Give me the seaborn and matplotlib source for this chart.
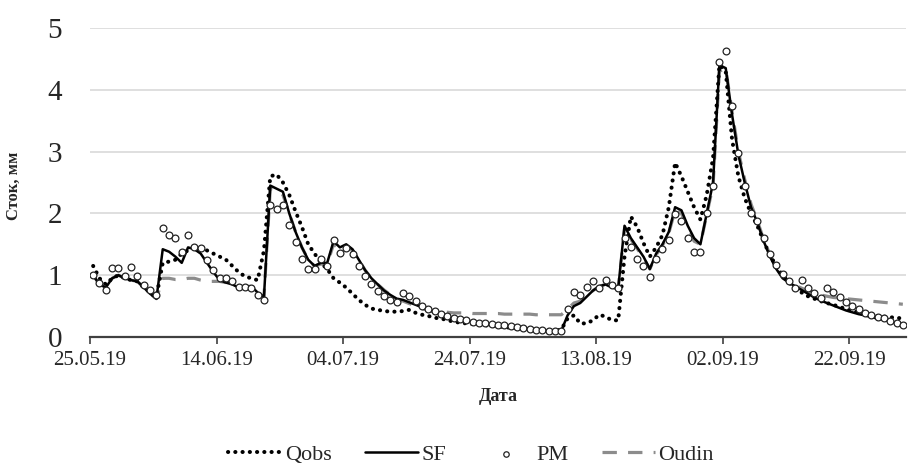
import numpy as np
import pandas as pd
import matplotlib
matplotlib.use("Agg")
import matplotlib.pyplot as plt
import matplotlib.dates as mdates
import seaborn as sns

# ---------------- data (daily, 25.05.2019 - 30.09.2019) ----------------
start_date = "2019-05-25"

qobs = [
    1.15, 0.95, 0.85, 0.95, 1.00, 0.95, 0.92, 0.90, 0.80, 0.72,
    0.65, 1.20, 1.22, 1.25, 1.35, 1.40, 1.45, 1.43, 1.40, 1.35,
    1.30, 1.25, 1.15, 1.05, 0.98, 0.95, 0.92, 1.40, 2.60, 2.63,
    2.50, 2.30, 2.03, 1.78, 1.50, 1.35, 1.20, 1.10, 0.95, 0.88,
    0.80, 0.70, 0.60, 0.52, 0.46, 0.44, 0.42, 0.41, 0.41, 0.42,
    0.44, 0.39, 0.36, 0.34, 0.31, 0.30, 0.27, 0.25, 0.23, 0.22,
    0.21, 0.20, 0.19, 0.18, 0.17, 0.16, 0.15, 0.14, 0.13, 0.12,
    0.11, 0.11, 0.10, 0.10, 0.12, 0.30, 0.35, 0.22, 0.22, 0.27,
    0.36, 0.33, 0.27, 0.27, 1.30, 1.95, 1.78, 1.52, 1.30, 1.45,
    1.65, 2.10, 2.82, 2.60, 2.35, 2.10, 1.90, 2.30, 2.90, 4.40,
    4.30, 3.20, 2.60, 2.25, 2.00, 1.80, 1.55, 1.32, 1.15, 1.00,
    0.88, 0.80, 0.72, 0.66, 0.62, 0.58, 0.55, 0.52, 0.49, 0.45,
    0.42, 0.40, 0.38, 0.36, 0.34, 0.33, 0.32, 0.31, 0.30,
]

sf = [
    1.00, 0.85, 0.80, 0.95, 1.00, 0.95, 0.92, 0.90, 0.80, 0.70,
    0.62, 1.42, 1.38, 1.30, 1.20, 1.45, 1.42, 1.35, 1.20, 1.05,
    0.92, 0.88, 0.85, 0.80, 0.82, 0.82, 0.72, 0.65, 2.45, 2.40,
    2.35, 2.00, 1.70, 1.45, 1.25, 1.15, 1.20, 1.20, 1.55, 1.45,
    1.50, 1.42, 1.25, 1.08, 0.95, 0.85, 0.75, 0.68, 0.62, 0.60,
    0.56, 0.52, 0.48, 0.44, 0.40, 0.37, 0.33, 0.30, 0.28, 0.26,
    0.24, 0.22, 0.21, 0.20, 0.19, 0.18, 0.16, 0.15, 0.14, 0.13,
    0.12, 0.11, 0.10, 0.10, 0.10, 0.35, 0.50, 0.55, 0.65, 0.75,
    0.82, 0.85, 0.80, 0.78, 1.80, 1.60, 1.45, 1.30, 1.10, 1.35,
    1.50, 1.70, 2.10, 2.05, 1.80, 1.60, 1.50, 2.00, 2.50, 4.40,
    4.35, 3.60, 2.95, 2.50, 2.10, 1.85, 1.55, 1.30, 1.10, 0.95,
    0.88, 0.82, 0.76, 0.70, 0.64, 0.59, 0.55, 0.51, 0.47, 0.43,
    0.40, 0.37, 0.35, 0.32, 0.30, 0.28, 0.25, 0.22, 0.20,
]

pm = [
    1.01, 0.87, 0.76, 1.11, 1.11, 0.98, 1.13, 0.99, 0.84, 0.76,
    0.68, 1.76, 1.65, 1.60, 1.38, 1.65, 1.45, 1.44, 1.25, 1.08,
    0.95, 0.95, 0.90, 0.81, 0.81, 0.79, 0.68, 0.60, 2.14, 2.07,
    2.14, 1.81, 1.54, 1.27, 1.10, 1.10, 1.26, 1.15, 1.57, 1.36,
    1.44, 1.35, 1.15, 0.99, 0.86, 0.75, 0.66, 0.60, 0.56, 0.72,
    0.66, 0.58, 0.50, 0.46, 0.42, 0.38, 0.34, 0.31, 0.29, 0.27,
    0.25, 0.23, 0.22, 0.21, 0.20, 0.19, 0.17, 0.16, 0.15, 0.13,
    0.12, 0.11, 0.10, 0.10, 0.09, 0.46, 0.73, 0.68, 0.81, 0.90,
    0.79, 0.92, 0.84, 0.79, 1.60, 1.46, 1.27, 1.15, 0.97, 1.26,
    1.42, 1.57, 1.99, 1.88, 1.60, 1.38, 1.38, 2.01, 2.44, 4.45,
    4.63, 3.73, 2.98, 2.44, 2.00, 1.88, 1.60, 1.35, 1.17, 1.02,
    0.90, 0.79, 0.92, 0.80, 0.71, 0.63, 0.80, 0.73, 0.65, 0.57,
    0.50, 0.45, 0.39, 0.36, 0.33, 0.30, 0.26, 0.22, 0.20,
]

oudin = [
    1.00, 0.85, 0.80, 0.95, 1.00, 0.95, 0.92, 0.90, 0.80, 0.70,
    0.62, 0.95, 0.95, 0.93, 0.93, 0.95, 0.95, 0.92, 0.90, 0.90,
    0.90, 0.88, 0.85, 0.80, 0.82, 0.82, 0.72, 0.65, 2.40, 2.38,
    2.30, 2.00, 1.70, 1.45, 1.25, 1.15, 1.18, 1.18, 1.50, 1.42,
    1.48, 1.40, 1.25, 1.08, 0.95, 0.85, 0.76, 0.68, 0.62, 0.58,
    0.54, 0.50, 0.46, 0.43, 0.41, 0.40, 0.40, 0.39, 0.39, 0.39,
    0.38, 0.38, 0.38, 0.38, 0.38, 0.37, 0.37, 0.37, 0.37, 0.37,
    0.36, 0.36, 0.36, 0.36, 0.36, 0.45, 0.55, 0.58, 0.66, 0.75,
    0.82, 0.85, 0.80, 0.78, 1.75, 1.58, 1.43, 1.28, 1.10, 1.33,
    1.48, 1.68, 2.05, 2.00, 1.78, 1.55, 1.50, 1.98, 2.45, 4.30,
    4.35, 3.65, 3.00, 2.55, 2.15, 1.88, 1.58, 1.33, 1.12, 0.98,
    0.90, 0.84, 0.79, 0.75, 0.71, 0.68, 0.66, 0.64, 0.63, 0.62,
    0.61, 0.60, 0.59, 0.58, 0.57, 0.56, 0.55, 0.54, 0.53,
]

tick_labels = ["25.05.19", "14.06.19", "04.07.19", "24.07.19",
               "13.08.19", "02.09.19", "22.09.19"]
y_ticks = [0, 1, 2, 3, 4, 5]
series_names = ["Qobs", "SF", "PM", "Oudin"]
x_title = "Дата"
y_title = "Сток, мм"

# ---------------- frame ----------------
dates = pd.date_range(start_date, periods=len(qobs), freq="D") + pd.Timedelta(hours=12)
df = pd.DataFrame({"date": dates, "Qobs": qobs, "SF": sf, "PM": pm, "Oudin": oudin})

sns.set_theme(style="white")
plt.rcParams["font.family"] = ["Liberation Serif", "DejaVu Serif"]

fig = plt.figure(figsize=(9.2, 4.68), dpi=100)
ax = fig.add_axes([90 / 920, 1 - 337 / 468, (906 - 90) / 920, (337 - 28) / 468])

sns.lineplot(data=df, x="date", y="Oudin", ax=ax, color="#8c8c8c", lw=2.3,
             linestyle=(0, (4.5, 3.5)), label=series_names[3], zorder=2)
sns.lineplot(data=df, x="date", y="Qobs", ax=ax, color="black", lw=2.9,
             linestyle=(0, (0.05, 1.75)), dash_capstyle="round",
             label=series_names[0], zorder=3)
sns.lineplot(data=df, x="date", y="SF", ax=ax, color="black", lw=1.8,
             label=series_names[1], zorder=3)
sns.scatterplot(data=df, x="date", y="PM", ax=ax, marker="o", s=24,
                facecolor="white", edgecolor="#222222", linewidth=0.9,
                label=series_names[2], zorder=4)

# axes styling
tick_dates = pd.to_datetime(tick_labels, format="%d.%m.%y")
ax.set_xlim(pd.Timestamp(start_date), pd.Timestamp(start_date) + pd.Timedelta(days=len(qobs)))
ax.set_xticks(tick_dates)
ax.set_xticklabels(tick_labels)
ax.set_ylim(0, 5)
ax.set_yticks(y_ticks)
ax.set_yticklabels([str(v) for v in y_ticks])

ax.grid(axis="y", color="#d9d9d9", lw=1.2)
ax.grid(axis="x", visible=False)
for s in ["top", "right", "left"]:
    ax.spines[s].set_visible(False)
ax.spines["bottom"].set_color("#404040")
ax.spines["bottom"].set_linewidth(1.6)
ax.spines["bottom"].set_zorder(5)

ax.tick_params(axis="x", which="major", direction="out", length=5, width=1.2,
               color="#404040", labelsize=15, pad=5, bottom=True)
ax.tick_params(axis="y", length=0, labelsize=21, pad=20)

ax.set_xlabel(x_title, fontsize=13, fontweight="bold", labelpad=13)
ax.set_ylabel(y_title, fontsize=12, fontweight="bold", labelpad=14)
ax.yaxis.set_label_coords(-0.083, 0.49)

# legend
handles, labels = ax.get_legend_handles_labels()
ax.get_legend().remove()
order = [labels.index(n) for n in series_names]
fig.legend([handles[i] for i in order], [labels[i] for i in order],
           loc="center", bbox_to_anchor=(0.512, 0.028), ncol=4, frameon=False,
           fontsize=16, handlelength=2.4, handletextpad=0.15, columnspacing=1.5,
           markerscale=0.8)

fig.savefig("out.png", dpi=100)
